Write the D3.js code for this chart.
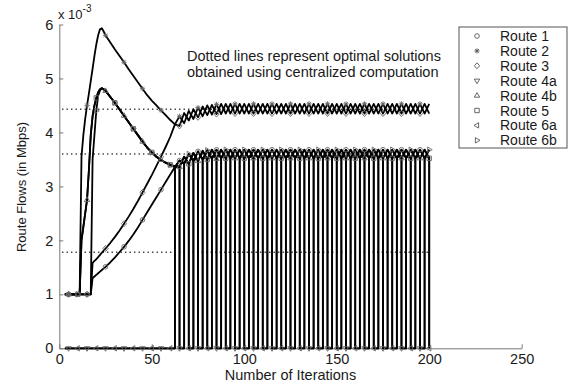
<!DOCTYPE html>
<html>
<head>
<meta charset="utf-8">
<script src="https://cdn.jsdelivr.net/npm/d3@7"></script>
<style>
  body { margin: 0; background: #fff; }
  svg text { font-family: "Liberation Sans", Arial, sans-serif; fill: #1a1a1a; }
</style>
</head>
<body>
<svg id="chart" width="568" height="387"></svg>
<script>
// iterations (x 10^-3 Mbps flows)
const rampIters = [3,4,5,6,7,8,9,10,11,12,13,14,15,16,17,18,19,20,21,22,23,24,
  25,27.5,30,32.5,35,37.5,40,42.5,45,47.5,50,52.5,55,57.5,60];
const oscIters = [62.5,65,67.5,70,72.5,75,77.5,80,82.5,85,87.5,90,92.5,95,97.5,100,
  102.5,105,107.5,110,112.5,115,117.5,120,122.5,125,127.5,130,132.5,135,137.5,140,
  142.5,145,147.5,150,152.5,155,157.5,160,162.5,165,167.5,170,172.5,175,177.5,180,
  182.5,185,187.5,190,192.5,195,197.5,200];

// first phase (iterations 3 .. 60)
const route1Ramp = [1,1,1,1,1,1,1,1,1,1,1,1,1,1,1,1.3,1.33,1.36,1.39,1.42,1.45,1.48,
  1.51,1.59,1.68,1.78,1.88,1.99,2.11,2.24,2.38,2.52,2.66,2.8,2.94,3.08,3.22];
const route2Ramp = [1,1,1,1,1,1,1,1,1,3.55,3.95,4.25,4.5,4.72,4.95,5.18,5.42,5.63,5.8,5.91,5.93,5.87,
  5.8,5.67,5.54,5.42,5.3,5.17,5.05,4.93,4.81,4.69,4.59,4.5,4.41,4.32,4.23];
const route3Ramp = [1,1,1,1,1,1,1,1,1,1,1,1,1,1,1,1.58,1.62,1.65,1.69,1.73,1.77,1.81,
  1.85,1.95,2.06,2.18,2.31,2.44,2.58,2.73,2.89,3.05,3.21,3.38,3.55,3.73,3.92];
const route4bRamp = [1,1,1,1,1,1,1,1,1,2.0,2.25,2.5,2.75,3.3,3.95,4.3,4.5,4.64,4.74,4.8,4.82,4.8,
  4.77,4.66,4.55,4.43,4.31,4.19,4.07,3.95,3.83,3.72,3.63,3.55,3.49,3.44,3.4];
const route6bRamp = [1,1,1,1,1,1,1,1,1,1,1,1,1,1,1,3.5,3.95,4.4,4.68,4.78,4.82,4.8,
  4.77,4.66,4.55,4.43,4.31,4.19,4.07,3.95,3.83,3.72,3.63,3.55,3.49,3.44,3.4];
const idleRamp = [0,0,0,0,0,0,0,0,0,0,0,0,0,0,0,0,0,0,0,0,0,0,
  0,0,0,0,0,0,0,0,0,0,0,0,0,0,0];

// second phase (iterations 62.5 .. 200), oscillating around the optimum
const upperA = [4.15,4.3,4.17,4.4,4.25,4.46,4.3,4.5,4.33,4.52,4.34,4.53,
  4.35,4.53,4.35,4.53,4.35,4.53,4.35,4.53,4.35,4.53,4.35,4.53,4.35,4.53,4.35,4.53,
  4.35,4.53,4.35,4.53,4.35,4.53,4.35,4.53,4.35,4.53,4.35,4.53,4.35,4.53,4.35,4.53,
  4.35,4.53,4.35,4.53,4.35,4.53,4.35,4.53,4.35,4.53,4.35,4.53];
const upperB = [4.15,4.12,4.36,4.22,4.43,4.28,4.48,4.32,4.51,4.34,4.53,4.35,
  4.53,4.35,4.53,4.35,4.53,4.35,4.53,4.35,4.53,4.35,4.53,4.35,4.53,4.35,4.53,4.35,
  4.53,4.35,4.53,4.35,4.53,4.35,4.53,4.35,4.53,4.35,4.53,4.35,4.53,4.35,4.53,4.35,
  4.53,4.35,4.53,4.35,4.53,4.35,4.53,4.35,4.53,4.35,4.53,4.35];
const middleA = [3.36,3.48,3.42,3.6,3.47,3.65,3.5,3.67,3.51,3.68,3.52,3.68,
  3.52,3.68,3.52,3.68,3.52,3.68,3.52,3.68,3.52,3.68,3.52,3.68,3.52,3.68,3.52,3.68,
  3.52,3.68,3.52,3.68,3.52,3.68,3.52,3.68,3.52,3.68,3.52,3.68,3.52,3.68,3.52,3.68,
  3.52,3.68,3.52,3.68,3.52,3.68,3.52,3.68,3.52,3.68,3.52,3.68];
const middleB = [3.36,3.36,3.55,3.42,3.62,3.47,3.66,3.5,3.68,3.51,3.68,3.52,
  3.68,3.52,3.68,3.52,3.68,3.52,3.68,3.52,3.68,3.52,3.68,3.52,3.68,3.52,3.68,3.52,
  3.68,3.52,3.68,3.52,3.68,3.52,3.68,3.52,3.68,3.52,3.68,3.52,3.68,3.52,3.68,3.52,
  3.68,3.52,3.68,3.52,3.68,3.52,3.68,3.52,3.68,3.52,3.68,3.52];
const switching = [3.38,0,3.45,0,3.5,0,3.53,0,3.55,0,3.55,0,
  3.55,0,3.55,0,3.55,0,3.55,0,3.55,0,3.55,0,3.55,0,3.55,0,
  3.55,0,3.55,0,3.55,0,3.55,0,3.55,0,3.55,0,3.55,0,3.55,0,
  3.55,0,3.55,0,3.55,0,3.55,0,3.55,0,3.55,0];

const routeNames = ["Route 1","Route 2","Route 3","Route 4a","Route 4b","Route 5","Route 6a","Route 6b"];
const optimalFlows = [4.43, 3.6, 1.78];
const xTicks = [0, 50, 100, 150, 200, 250];
const yTicks = [0, 1, 2, 3, 4, 5, 6];

const iters = rampIters.concat(oscIters);
// routes 4a / 6a switch on and off, drawn as steps
const routes = [
  { name: routeNames[3], values: idleRamp.concat(switching), marker: "triDown", every: 5, step: true },
  { name: routeNames[6], values: idleRamp.concat(switching), marker: "triLeft", every: 0, step: true },
  { name: routeNames[0], values: route1Ramp.concat(middleA), marker: "circle", every: 5 },
  { name: routeNames[1], values: route2Ramp.concat(upperA), marker: "star", every: 5 },
  { name: routeNames[2], values: route3Ramp.concat(upperB), marker: "diamond", every: 5 },
  { name: routeNames[4], values: route4bRamp.concat(middleB), marker: "triUp", every: 5 },
  { name: routeNames[5], values: route4bRamp.concat(middleB), marker: "square", every: 0 },
  { name: routeNames[7], values: route6bRamp.concat(middleA), marker: "triRight", every: 0 }
];
const legendMarkers = ["circle","star","diamond","triDown","triUp","square","triLeft","triRight"];

const markerPaths = {
  circle: "M2.3,0A2.3,2.3,0,1,1,-2.3,0A2.3,2.3,0,1,1,2.3,0Z",
  star: "M0,-2.6V2.6M-2.6,0H2.6M-1.9,-1.9L1.9,1.9M-1.9,1.9L1.9,-1.9",
  diamond: "M0,-3L2.6,0L0,3L-2.6,0Z",
  triDown: "M-2.7,-1.6L2.7,-1.6L0,3Z",
  triUp: "M-2.7,1.6L2.7,1.6L0,-3Z",
  square: "M-2.2,-2.2H2.2V2.2H-2.2Z",
  triLeft: "M1.6,-2.7L1.6,2.7L-3,0Z",
  triRight: "M-1.6,-2.7L-1.6,2.7L3,0Z"
};

const svg = d3.select("#chart");
const margin = { top: 24.5, left: 59.3 };
const width = 462.4, height = 323.8;

const x = d3.scaleLinear().domain([0, 250]).range([0, width]);
const y = d3.scaleLinear().domain([0, 6]).range([height, 0]);

const g = svg.append("g")
  .attr("transform", "translate(" + margin.left + "," + margin.top + ")");

// dotted optimal solutions
g.selectAll("line.opt")
  .data(optimalFlows)
  .enter().append("line")
  .attr("x1", x(1.5)).attr("x2", x(200))
  .attr("y1", d => y(d)).attr("y2", d => y(d))
  .attr("stroke", "#333")
  .attr("stroke-width", 1.3)
  .attr("stroke-dasharray", "1.3,3.2");

// axes
const xAxis = g.append("g")
  .attr("transform", "translate(0," + height + ")")
  .call(d3.axisBottom(x).tickValues(xTicks).tickFormat(d3.format("d"))
    .tickSizeInner(-4).tickSizeOuter(0).tickPadding(5));
const yAxis = g.append("g")
  .call(d3.axisLeft(y).tickValues(yTicks).tickFormat(d3.format("d"))
    .tickSizeInner(-4).tickSizeOuter(0).tickPadding(6));
[xAxis, yAxis].forEach(a => {
  a.select(".domain").attr("stroke", "#777");
  a.selectAll(".tick line").attr("stroke", "#777");
  a.selectAll(".tick text").attr("font-size", 14.5).attr("fill", "#1a1a1a")
    .style("font-family", "'Liberation Sans', Arial, sans-serif");
});

// route flows
const line = d3.line()
  .x((d, i) => x(iters[i]))
  .y(d => y(d));
const stepLine = d3.line()
  .x((d, i) => x(iters[i]))
  .y(d => y(d))
  .curve(d3.curveStepAfter);

g.selectAll("path.route")
  .data(routes)
  .enter().append("path")
  .attr("class", "route")
  .attr("d", d => d.step ? stepLine(d.values) : line(d.values))
  .attr("fill", "none")
  .attr("stroke", "#000")
  .attr("stroke-width", 1.8)
  .attr("stroke-linejoin", "round");

// markers every 10 iterations
routes.forEach(r => {
  const pts = r.values
    .map((v, i) => ({ it: iters[i], v: v }))
    .filter(p => ((p.it - r.every) % 10 + 10) % 10 === 0);
  g.selectAll(null)
    .data(pts)
    .enter().append("path")
    .attr("d", markerPaths[r.marker])
    .attr("transform", p => "translate(" + x(p.it) + "," + y(p.v) + ")")
    .attr("fill", "none")
    .attr("stroke", "#666")
    .attr("stroke-width", 0.9);
});

// exponent label
const expo = svg.append("text").attr("x", 58).attr("y", 19).attr("font-size", 13);
expo.append("tspan").text("x 10");
expo.append("tspan").attr("dy", -7).attr("font-size", 10).text("-3");

// axis titles
svg.append("text")
  .attr("x", margin.left + x(125)).attr("y", 380)
  .attr("text-anchor", "middle")
  .attr("font-size", 14.5)
  .text("Number of Iterations");
svg.append("text")
  .attr("transform", "translate(26,187) rotate(-90)")
  .attr("text-anchor", "middle")
  .attr("font-size", 13)
  .text("Route Flows (in Mbps)");

// annotation
const note = svg.append("text").attr("font-size", 14.5);
note.append("tspan").attr("x", 187).attr("y", 61).text("Dotted lines represent optimal solutions");
note.append("tspan").attr("x", 187).attr("y", 77).text("obtained using centralized computation");

// legend
const legend = svg.append("g").attr("transform", "translate(459,27)");
legend.append("rect")
  .attr("x", 0).attr("y", 0).attr("width", 108).attr("height", 121)
  .attr("fill", "#fff").attr("stroke", "#555").attr("stroke-width", 1);
const items = legend.selectAll("g.item")
  .data(routeNames)
  .enter().append("g")
  .attr("transform", (d, i) => "translate(0," + (9 + i * 14.9) + ")");
items.append("path")
  .attr("d", (d, i) => markerPaths[legendMarkers[i]])
  .attr("transform", "translate(18,0)")
  .attr("fill", "none").attr("stroke", "#555").attr("stroke-width", 0.9);
items.append("text")
  .attr("x", 41).attr("y", 5)
  .attr("font-size", 14)
  .text(d => d);
</script>
</body>
</html>
